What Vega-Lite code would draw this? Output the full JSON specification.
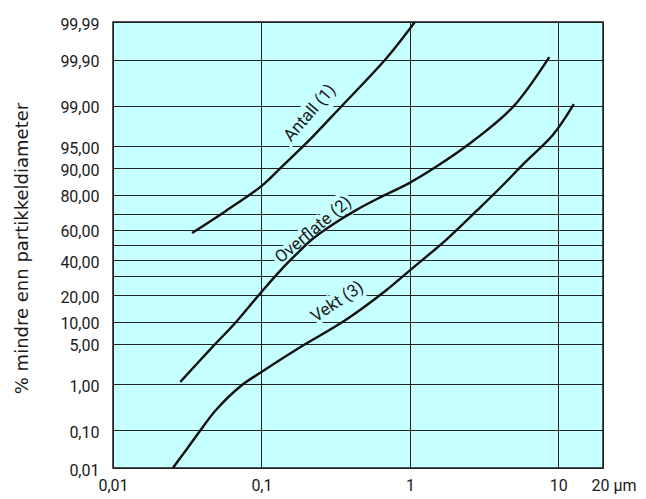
{
  "$schema": "https://vega.github.io/schema/vega-lite/v6.json",
  "autosize": {"type": "none"},
  "padding": {"left": 113, "top": 22, "right": 43, "bottom": 31},
  "width": 490,
  "height": 446,
  "background": "#ffffff",
  "config": {
    "view": {"fill": "#c6ffff", "stroke": "#1a1a1a", "strokeWidth": 1.5},
    "text": {"font": "Roboto"}
  },
  "data": {
    "values": [
      {"series": "Antall (1)", "um": 0.0341, "pct": 57.9},
      {"series": "Antall (1)", "um": 0.0576, "pct": 71.5},
      {"series": "Antall (1)", "um": 0.1, "pct": 83.7},
      {"series": "Antall (1)", "um": 0.138, "pct": 90.5},
      {"series": "Antall (1)", "um": 0.2085, "pct": 95.9},
      {"series": "Antall (1)", "um": 0.34, "pct": 98.91},
      {"series": "Antall (1)", "um": 0.697, "pct": 99.909},
      {"series": "Antall (1)", "um": 1.08, "pct": 99.99},
      {"series": "Overflate (2)", "um": 0.0284, "pct": 1.12},
      {"series": "Overflate (2)", "um": 0.047, "pct": 4.5},
      {"series": "Overflate (2)", "um": 0.0675, "pct": 9.96},
      {"series": "Overflate (2)", "um": 0.1, "pct": 21.7},
      {"series": "Overflate (2)", "um": 0.135, "pct": 33.8},
      {"series": "Overflate (2)", "um": 0.17, "pct": 43.4},
      {"series": "Overflate (2)", "um": 0.2195, "pct": 53.8},
      {"series": "Overflate (2)", "um": 0.2987, "pct": 63.1},
      {"series": "Overflate (2)", "um": 0.4285, "pct": 71.7},
      {"series": "Overflate (2)", "um": 0.6134, "pct": 78.2},
      {"series": "Overflate (2)", "um": 0.989, "pct": 84.9},
      {"series": "Overflate (2)", "um": 1.492, "pct": 90.3},
      {"series": "Overflate (2)", "um": 2.72, "pct": 96.0},
      {"series": "Overflate (2)", "um": 4.97, "pct": 98.95},
      {"series": "Overflate (2)", "um": 8.69, "pct": 99.914},
      {"series": "Vekt (3)", "um": 0.0253, "pct": 0.01},
      {"series": "Vekt (3)", "um": 0.0311, "pct": 0.0315},
      {"series": "Vekt (3)", "um": 0.0382, "pct": 0.0926},
      {"series": "Vekt (3)", "um": 0.0494, "pct": 0.297},
      {"series": "Vekt (3)", "um": 0.0726, "pct": 0.936},
      {"series": "Vekt (3)", "um": 0.1, "pct": 1.71},
      {"series": "Vekt (3)", "um": 0.1788, "pct": 4.29},
      {"series": "Vekt (3)", "um": 0.369, "pct": 10.55},
      {"series": "Vekt (3)", "um": 0.683, "pct": 22.15},
      {"series": "Vekt (3)", "um": 1.005, "pct": 33.8},
      {"series": "Vekt (3)", "um": 1.748, "pct": 53.3},
      {"series": "Vekt (3)", "um": 2.81, "pct": 71.5},
      {"series": "Vekt (3)", "um": 4.05, "pct": 82.9},
      {"series": "Vekt (3)", "um": 6.01, "pct": 91.7},
      {"series": "Vekt (3)", "um": 9.21, "pct": 96.7},
      {"series": "Vekt (3)", "um": 12.72, "pct": 99.06},
      {"label": "Antall (1)", "um": 0.212, "pct": 98.61},
      {"label": "Overflate (2)", "um": 0.224, "pct": 59.9},
      {"label": "Vekt (3)", "um": 0.325, "pct": 17.1}
    ]
  },
  "transform": [
    {"calculate": "quantileNormal(datum.pct / 100)", "as": "z"}
  ],
  "encoding": {
    "x": {
      "field": "um",
      "type": "quantitative",
      "scale": {"type": "log", "domain": [0.01, 20], "nice": false},
      "axis": {
        "values": [0.01, 0.1, 1, 10, 20],
        "labelExpr": "datum.value > 15 ? '20 µm' : datum.value < 0.05 ? '0,01' : datum.value < 0.5 ? '0,1' : datum.value < 5 ? '1' : '10'",
        "labelAlign": {"condition": {"test": "datum.value > 15", "value": "left"}, "value": "center"},
        "labelOffset": {"condition": {"test": "datum.value > 15", "value": -12}, "value": 0},
        "labelFlush": false,
        "labelFont": "Roboto",
        "labelFontSize": 16,
        "labelColor": "#1a1a1a",
        "labelPadding": 9,
        "grid": true,
        "gridColor": "#222222",
        "gridWidth": 1,
        "ticks": false,
        "domain": false,
        "title": null
      }
    },
    "y": {
      "field": "z",
      "type": "quantitative",
      "scale": {"domain": [-3.719016, 3.719016], "nice": false, "zero": false},
      "axis": {
        "values": [-3.719016, -3.090232, -2.326348, -1.644854, -1.281552, -0.841621, -0.524401, -0.253347, 0, 0.253347, 0.524401, 0.841621, 1.281552, 1.644854, 2.326348, 3.090232, 3.719016],
        "labelExpr": "(abs(datum.value) < 0.01 || abs(abs(datum.value) - 0.524401) < 0.01) ? '' : replace(format(cumulativeNormal(datum.value) * 100, '.2f'), '.', ',')",
        "labelFont": "Roboto",
        "labelFontSize": 16,
        "labelColor": "#1a1a1a",
        "labelPadding": 14,
        "labelOffset": 2,
        "labelBaseline": "middle",
        "grid": true,
        "gridColor": "#222222",
        "gridWidth": 1,
        "ticks": false,
        "domain": false,
        "title": "% mindre enn partikkeldiameter",
        "titleFont": "DejaVu Sans",
        "titleFontSize": 18,
        "titleFontWeight": "normal",
        "titleColor": "#1a1a1a",
        "titleX": -91,
        "titleY": 226,
        "titleAngle": 270,
        "titleAlign": "center",
        "titleBaseline": "middle"
      }
    }
  },
  "layer": [
    {
      "transform": [{"filter": "datum.label == 'Antall (1)'"}],
      "mark": {"type": "text", "angle": 311, "fontSize": 17, "align": "center", "baseline": "middle", "stroke": "#c6ffff", "strokeWidth": 7, "fill": "#c6ffff"},
      "encoding": {"text": {"field": "label"}}
    },
    {
      "transform": [{"filter": "datum.label == 'Overflate (2)'"}],
      "mark": {"type": "text", "angle": 320, "fontSize": 17, "align": "center", "baseline": "middle", "stroke": "#c6ffff", "strokeWidth": 7, "fill": "#c6ffff"},
      "encoding": {"text": {"field": "label"}}
    },
    {
      "transform": [{"filter": "datum.label == 'Vekt (3)'"}],
      "mark": {"type": "text", "angle": 326, "fontSize": 17, "align": "center", "baseline": "middle", "stroke": "#c6ffff", "strokeWidth": 7, "fill": "#c6ffff"},
      "encoding": {"text": {"field": "label"}}
    },
    {
      "transform": [{"filter": "isValid(datum.series)"}],
      "mark": {"type": "line", "color": "#111111", "strokeWidth": 2.4, "interpolate": "catmull-rom"},
      "encoding": {"detail": {"field": "series"}}
    },
    {
      "transform": [{"filter": "datum.label == 'Antall (1)'"}],
      "mark": {"type": "text", "angle": 311, "fontSize": 17, "align": "center", "baseline": "middle", "color": "#1a1a1a"},
      "encoding": {"text": {"field": "label"}}
    },
    {
      "transform": [{"filter": "datum.label == 'Overflate (2)'"}],
      "mark": {"type": "text", "angle": 320, "fontSize": 17, "align": "center", "baseline": "middle", "color": "#1a1a1a"},
      "encoding": {"text": {"field": "label"}}
    },
    {
      "transform": [{"filter": "datum.label == 'Vekt (3)'"}],
      "mark": {"type": "text", "angle": 326, "fontSize": 17, "align": "center", "baseline": "middle", "color": "#1a1a1a"},
      "encoding": {"text": {"field": "label"}}
    }
  ]
}
